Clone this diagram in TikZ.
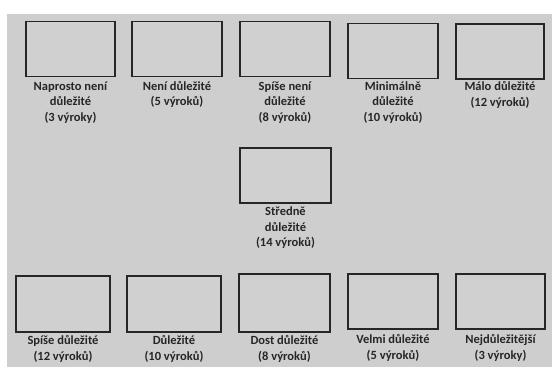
\documentclass[tikz,border=0pt]{standalone}
\usepackage{fontspec}
\setmainfont{Carlito}
\definecolor{paper}{RGB}{206,206,206}
\definecolor{ink}{RGB}{38,38,38}
\tikzset{
  card/.style={draw=ink, line width=1.4pt, fill=paper!96!white, inner sep=0pt,
    minimum width=#1, minimum height=55pt},
  card/.default=90pt,
  caption/.style={anchor=north, align=center, text=ink, inner sep=0pt,
    font=\bfseries\fontsize{12.5}{15.5}\selectfont},
}
\begin{document}
\begin{tikzpicture}[x=1pt,y=-1pt]
  % page: white margin at top and left, grey paper elsewhere
  \fill[white] (0,0) rectangle (552,367);
  \fill[paper] (7,14) rectangle (552,367);
  \useasboundingbox (0,0) rectangle (552,367);

  % upper row
  \node[card=89pt] (a1) at (70.5,49) {};
  \node[card=90pt] (a2) at (177,49) {};
  \node[card=90pt] (a3) at (285,49) {};
  \node[card=90pt] (a4) at (393,51) {};
  \node[card=88pt] (a5) at (500,51.5) {};
  \node[caption] (t1) at ([yshift=-4pt]a1.south) {Naprosto není\\důležité\\(3 výroky)};
  \node[caption] (t2) at ([yshift=-4pt]a2.south) {Není důležité\\(5 výroků)};
  \node[caption] (t3) at ([yshift=-4pt]a3.south) {Spíše není\\důležité\\(8 výroků)};
  \node[caption] (t4) at ([yshift=-2pt]a4.south) {Minimálně\\důležité\\(10 výroků)};
  \node[caption] (t5) at ([yshift=-2pt]a5.south) {Málo důležité\\(12 výroků)};

  % middle
  \node[card=91pt] (m) at (285.5,175.5) {};
  \node[caption] (tm) at ([yshift=-3pt]m.south) {Středně\\důležité\\(14 výroků)};

  % lower row
  \node[card=94pt, minimum height=56pt] (b1) at (63,304) {};
  \node[card=94pt, minimum height=56pt] (b2) at (174,304) {};
  \node[card=91pt, minimum height=58pt] (b3) at (284.5,303) {};
  \node[card=90pt] (b4) at (393,301.5) {};
  \node[card=89pt] (b5) at (500.5,301.5) {};
  \node[caption] (u1) at ([yshift=-3pt]b1.south) {Spíše důležité\\(12 výroků)};
  \node[caption] (u2) at ([yshift=-3pt]b2.south) {Důležité\\(10 výroků)};
  \node[caption] (u3) at ([yshift=-3pt]b3.south) {Dost důležité\\(8 výroků)};
  \node[caption] (u4) at ([yshift=-5pt]b4.south) {Velmi důležité\\(5 výroků)};
  \node[caption] (u5) at ([yshift=-5pt]b5.south) {Nejdůležitější\\(3 výroky)};
\end{tikzpicture}
\end{document}
